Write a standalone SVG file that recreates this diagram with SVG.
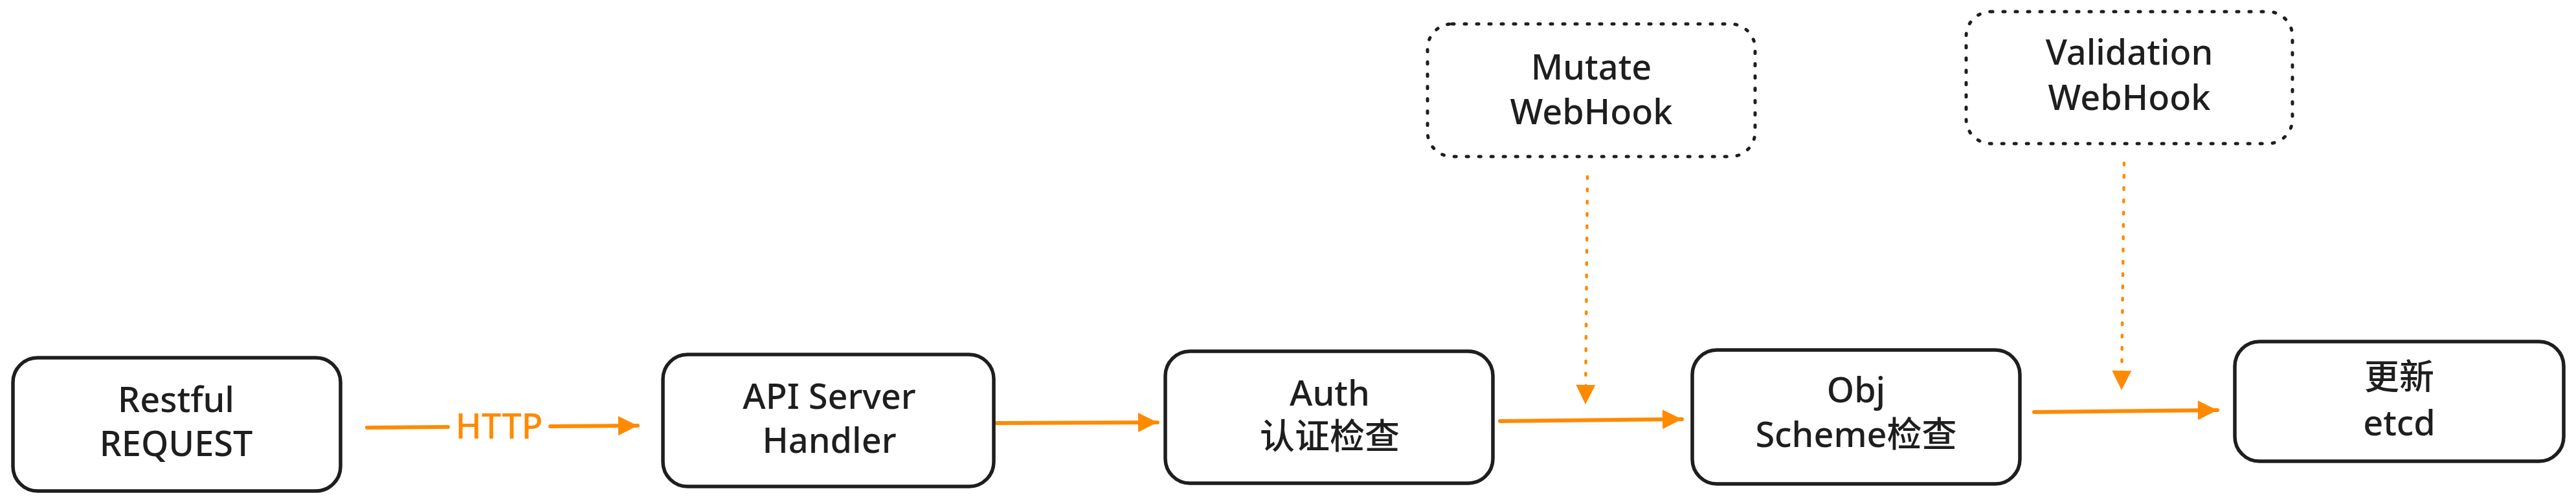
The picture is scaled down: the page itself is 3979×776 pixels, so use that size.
<svg xmlns="http://www.w3.org/2000/svg" width="3979" height="776" viewBox="0 0 3979 776">
<style>
.box{fill:#ffffff;stroke:#1e1e1e;stroke-width:5.5;stroke-linejoin:round}
.dbox{fill:none;stroke:#1e1e1e;stroke-width:5;stroke-linecap:round;stroke-dasharray:3 16}
.t{font-family:"Noto Sans","Noto Sans CJK SC",sans-serif;font-size:54px;font-weight:500;fill:#1e1e1e;text-anchor:middle}
.lbl{font-family:"Noto Sans","Noto Sans CJK SC",sans-serif;font-size:54px;font-weight:500;fill:#ff8a00;text-anchor:middle}
.edge{fill:none;stroke:#ff8a00;stroke-width:6;stroke-linecap:round}
.dedge{fill:none;stroke:#ff8a00;stroke-width:4.5;stroke-linecap:round;stroke-dasharray:3 16}
</style>
<defs>
<marker id="ah" markerUnits="userSpaceOnUse" markerWidth="34" markerHeight="34" viewBox="0 0 34 34" refX="32" refY="17" orient="auto">
<path d="M2,2 L32,17 L2,32 Z" fill="#ff8a00"/>
</marker>
</defs>
<rect width="3979" height="776" fill="#ffffff"/>
<g id="connectors">
<path id="e1a" class="edge" d="M567,661 L692,660"/>
<path id="e1b" class="edge" d="M850,659 L985,658" marker-end="url(#ah)"/>
<text class="lbl" x="771" y="678">HTTP</text>
<path id="e2" class="edge" d="M1538,654 L1788,653" marker-end="url(#ah)"/>
<path id="e3" class="edge" d="M2317,651 L2598,648" marker-end="url(#ah)"/>
<path id="e4" class="edge" d="M3142,637 L3425,634" marker-end="url(#ah)"/>
<path id="e5" class="dedge" d="M2452,273 L2449,625" marker-end="url(#ah)"/>
<path id="e6" class="dedge" d="M3281,252 L3277,603" marker-end="url(#ah)"/>
</g>
<g id="restful">
<rect class="box" x="20" y="553" width="506" height="206" rx="38"/>
<text class="t" x="272" y="637">Restful</text>
<text class="t" x="272" y="705">REQUEST</text>
</g>
<g id="apiserver">
<rect class="box" x="1024" y="548" width="511" height="204" rx="38"/>
<text class="t" x="1281" y="632">API Server</text>
<text class="t" x="1281" y="700">Handler</text>
</g>
<g id="auth">
<rect class="box" x="1800" y="543" width="506" height="204" rx="38"/>
<text class="t" x="2054" y="627">Auth</text>
<text class="t" x="2054" y="694">认证检查</text>
</g>
<g id="obj">
<rect class="box" x="2614" y="541" width="506" height="207" rx="38"/>
<text class="t" x="2867" y="622">Obj</text>
<text class="t" x="2867" y="691">Scheme检查</text>
</g>
<g id="etcd">
<rect class="box" x="3452" y="528" width="508" height="185" rx="38"/>
<text class="t" x="3706" y="602">更新</text>
<text class="t" x="3706" y="673">etcd</text>
</g>
<g id="mutate">
<rect class="dbox" x="2205" y="37" width="506" height="205" rx="38"/>
<text class="t" x="2458" y="123">Mutate</text>
<text class="t" x="2458" y="192">WebHook</text>
</g>
<g id="validation">
<rect class="dbox" x="3037" y="18" width="504" height="204" rx="38"/>
<text class="t" x="3289" y="100">Validation</text>
<text class="t" x="3289" y="170">WebHook</text>
</g>
</svg>
